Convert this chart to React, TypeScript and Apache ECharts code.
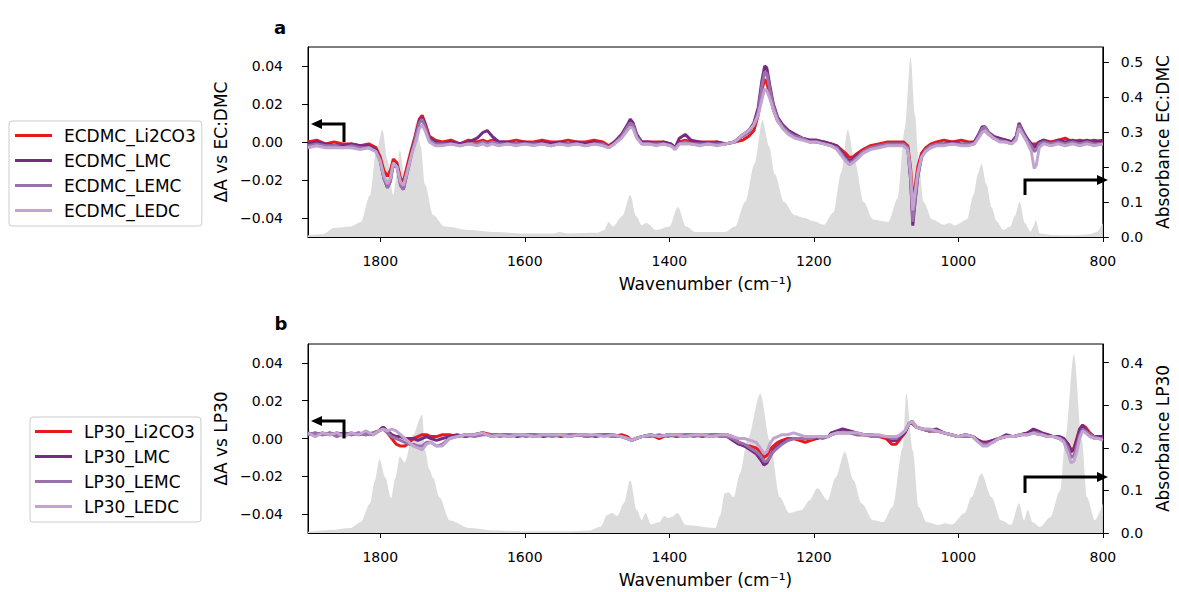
import React, { useEffect, useRef } from "react";
import * as echarts from "echarts";

// ---------- panel a: difference spectra vs EC:DMC ----------
const wnA = [
  1900, 1888, 1876, 1864, 1852, 1840, 1828, 1816, 1806, 1800,
  1795, 1790, 1786, 1782, 1777, 1772, 1768, 1763, 1757, 1751,
  1746, 1742, 1738, 1732, 1724, 1714, 1702, 1690, 1678, 1666,
  1658, 1652, 1645, 1636, 1624, 1612, 1600, 1588, 1576, 1564,
  1552, 1540, 1528, 1516, 1504, 1492, 1484, 1476, 1466, 1458,
  1454, 1450, 1445, 1438, 1428, 1418, 1408, 1398, 1392, 1386,
  1378, 1370, 1358, 1346, 1334, 1322, 1310, 1298, 1290, 1283,
  1277, 1272, 1268, 1265, 1261, 1256, 1250, 1243, 1235, 1226,
  1216, 1206, 1196, 1186, 1176, 1168, 1162, 1156, 1151, 1146,
  1140, 1132, 1122, 1110, 1098, 1086, 1076, 1070, 1066, 1063,
  1060, 1056, 1051, 1045, 1038, 1030, 1020, 1008, 996, 986,
  978, 972, 967, 963, 958, 951, 943, 934, 926, 920,
  916, 911, 905, 899, 895, 892, 888, 882, 872, 862,
  852, 842, 832, 822, 812, 800,
];

const ecdmcLi2CO3 = [
  0.000, 0.001, -0.001, 0.000, -0.001, -0.001, -0.002, -0.001, -0.003, -0.008,
  -0.015, -0.018, -0.015, -0.009, -0.011, -0.019, -0.021, -0.013, -0.004, 0.004,
  0.012, 0.014, 0.010, 0.003, 0.001, 0.000, 0.001, -0.001, 0.001, 0.000,
  0.001, 0.000, 0.001, 0.000, 0.000, 0.001, 0.000, 0.000, 0.001, 0.000,
  0.000, 0.001, 0.000, 0.000, 0.001, 0.000, -0.002, 0.000, 0.003, 0.007,
  0.009, 0.008, 0.003, 0.000, 0.000, 0.000, 0.000, -0.001, -0.003, 0.000,
  0.001, 0.000, 0.000, 0.000, 0.000, -0.001, 0.000, 0.001, 0.003, 0.006,
  0.014, 0.027, 0.033, 0.031, 0.025, 0.017, 0.011, 0.008, 0.005, 0.003,
  0.002, 0.001, 0.000, 0.000, -0.001, -0.002, -0.004, -0.006, -0.008, -0.008,
  -0.006, -0.004, -0.002, -0.001, 0.000, 0.000, 0.000, -0.002, -0.014, -0.030,
  -0.024, -0.013, -0.006, -0.003, -0.001, 0.000, 0.001, 0.000, 0.001, 0.000,
  0.000, 0.003, 0.006, 0.006, 0.004, 0.002, 0.001, 0.001, 0.000, 0.002,
  0.008, 0.005, 0.001, -0.001, -0.001, -0.001, 0.000, 0.001, 0.000, 0.001,
  0.002, 0.000, 0.001, 0.000, 0.001, 0.000,
];

const ecdmcLMC = [
  -0.001, 0.000, -0.001, -0.002, -0.002, -0.001, -0.002, -0.002, -0.004, -0.010,
  -0.019, -0.024, -0.020, -0.011, -0.012, -0.022, -0.025, -0.016, -0.006, 0.003,
  0.011, 0.013, 0.009, 0.002, 0.000, -0.001, 0.000, -0.001, 0.000, 0.002,
  0.005, 0.006, 0.003, 0.000, 0.000, -0.001, 0.000, -0.001, 0.000, -0.001,
  0.000, -0.001, 0.000, -0.001, 0.000, -0.001, -0.003, 0.000, 0.004, 0.009,
  0.012, 0.010, 0.004, 0.000, 0.000, -0.001, 0.000, -0.001, -0.003, 0.002,
  0.004, 0.001, 0.000, -0.001, 0.000, -0.001, 0.000, 0.004, 0.006, 0.010,
  0.018, 0.032, 0.040, 0.039, 0.030, 0.020, 0.013, 0.009, 0.006, 0.004,
  0.002, 0.001, 0.001, 0.000, -0.001, -0.002, -0.005, -0.008, -0.010, -0.009,
  -0.007, -0.005, -0.003, -0.002, -0.001, -0.001, -0.001, -0.003, -0.020, -0.044,
  -0.032, -0.018, -0.008, -0.004, -0.002, -0.001, -0.001, 0.000, -0.001, -0.001,
  0.000, 0.004, 0.008, 0.008, 0.005, 0.003, 0.002, 0.001, 0.000, 0.003,
  0.010, 0.006, 0.002, -0.001, -0.003, -0.002, 0.000, 0.001, -0.001, 0.001,
  0.000, 0.001, 0.000, 0.001, 0.000, 0.001,
];

const ecdmcLEMC = [
  -0.002, -0.001, -0.002, -0.002, -0.003, -0.002, -0.003, -0.003, -0.005, -0.010,
  -0.019, -0.024, -0.021, -0.012, -0.013, -0.023, -0.025, -0.017, -0.007, 0.002,
  0.010, 0.012, 0.008, 0.001, -0.001, -0.001, -0.001, -0.002, -0.001, -0.001,
  0.000, -0.001, 0.000, -0.001, -0.001, -0.001, -0.001, -0.001, -0.001, -0.002,
  -0.001, -0.001, -0.001, -0.002, -0.001, -0.001, -0.003, -0.001, 0.003, 0.008,
  0.010, 0.009, 0.003, -0.001, -0.001, -0.001, -0.001, -0.002, -0.003, -0.001,
  0.000, -0.001, -0.001, -0.001, -0.001, -0.001, 0.000, 0.003, 0.005, 0.009,
  0.016, 0.029, 0.037, 0.036, 0.028, 0.019, 0.012, 0.008, 0.005, 0.003,
  0.002, 0.000, 0.000, -0.001, -0.002, -0.003, -0.006, -0.009, -0.011, -0.010,
  -0.008, -0.005, -0.003, -0.002, -0.001, -0.001, -0.001, -0.003, -0.019, -0.042,
  -0.031, -0.018, -0.008, -0.004, -0.002, -0.001, -0.001, -0.001, -0.001, -0.001,
  -0.001, 0.003, 0.007, 0.008, 0.005, 0.002, 0.001, 0.000, -0.001, 0.002,
  0.009, 0.005, 0.001, -0.002, -0.005, -0.004, -0.001, 0.000, -0.001, 0.000,
  -0.001, 0.000, -0.001, 0.000, -0.001, -0.001,
];

const ecdmcLEDC = [
  -0.003, -0.002, -0.003, -0.003, -0.003, -0.003, -0.004, -0.003, -0.005, -0.010,
  -0.018, -0.022, -0.019, -0.011, -0.013, -0.021, -0.023, -0.016, -0.007, 0.000,
  0.007, 0.009, 0.006, 0.000, -0.002, -0.002, -0.001, -0.002, -0.001, -0.002,
  -0.001, -0.002, -0.001, -0.002, -0.001, -0.002, -0.001, -0.002, -0.001, -0.002,
  -0.001, -0.002, -0.001, -0.002, -0.001, -0.002, -0.003, -0.001, 0.002, 0.006,
  0.008, 0.007, 0.002, -0.001, -0.001, -0.002, -0.001, -0.002, -0.004, -0.001,
  -0.001, -0.001, -0.002, -0.001, -0.002, -0.001, 0.000, 0.004, 0.006, 0.009,
  0.014, 0.022, 0.028, 0.027, 0.023, 0.017, 0.011, 0.007, 0.004, 0.002,
  0.001, 0.000, 0.000, -0.001, -0.002, -0.004, -0.007, -0.010, -0.012, -0.011,
  -0.009, -0.006, -0.004, -0.003, -0.002, -0.002, -0.002, -0.004, -0.016, -0.036,
  -0.027, -0.016, -0.008, -0.005, -0.003, -0.002, -0.002, -0.001, -0.002, -0.002,
  -0.001, 0.002, 0.005, 0.006, 0.004, 0.002, 0.000, 0.000, -0.001, 0.001,
  0.007, 0.004, 0.000, -0.005, -0.014, -0.012, -0.003, -0.001, -0.002, -0.001,
  -0.002, -0.001, -0.002, -0.001, -0.002, -0.001,
];

// reference absorbance of EC:DMC (right axis, panel a)
const wnAbsA = [
  1900, 1880, 1864, 1841, 1827, 1814, 1806, 1797, 1790, 1782,
  1777, 1773, 1766, 1758, 1750, 1744, 1738, 1727, 1711, 1677,
  1640, 1600, 1560, 1552, 1540, 1500, 1490, 1484, 1478, 1465,
  1454, 1446, 1438, 1432, 1418, 1400, 1388, 1377, 1364, 1323,
  1309, 1295, 1282, 1271, 1262, 1254, 1241, 1227, 1214, 1200,
  1186, 1173, 1162, 1153, 1143, 1131, 1118, 1097, 1084, 1074,
  1066, 1060, 1055, 1048, 1036, 1020, 1012, 1005, 988, 979,
  973, 968, 961, 954, 947, 938, 928, 922, 915, 908,
  900, 896, 893, 887, 870, 840, 818, 808, 800,
];
const absECDMC = [
  0.005, 0.008, 0.026, 0.030, 0.043, 0.120, 0.240, 0.307, 0.220, 0.120,
  0.180, 0.250, 0.170, 0.240, 0.330, 0.260, 0.150, 0.063, 0.030, 0.020,
  0.014, 0.010, 0.010, 0.014, 0.010, 0.012, 0.020, 0.043, 0.030, 0.060,
  0.120, 0.060, 0.034, 0.040, 0.020, 0.030, 0.086, 0.030, 0.014, 0.014,
  0.030, 0.100, 0.210, 0.335, 0.260, 0.180, 0.100, 0.063, 0.055, 0.045,
  0.035, 0.070, 0.185, 0.307, 0.215, 0.100, 0.050, 0.043, 0.110, 0.310,
  0.515, 0.350, 0.220, 0.100, 0.050, 0.035, 0.040, 0.033, 0.050, 0.120,
  0.180, 0.210, 0.150, 0.085, 0.045, 0.020, 0.030, 0.060, 0.100, 0.040,
  0.015, 0.030, 0.048, 0.010, 0.006, 0.005, 0.008, 0.015, 0.040,
];

// ---------- panel b: difference spectra vs LP30 ----------
const wnB = [
  1900, 1890, 1880, 1870, 1860, 1850, 1840, 1830, 1820, 1810,
  1802, 1796, 1790, 1784, 1778, 1772, 1766, 1760, 1754, 1748,
  1742, 1736, 1730, 1722, 1714, 1704, 1694, 1682, 1670, 1658,
  1646, 1634, 1622, 1610, 1598, 1586, 1574, 1562, 1550, 1538,
  1526, 1514, 1502, 1490, 1478, 1466, 1458, 1452, 1446, 1438,
  1426, 1414, 1402, 1390, 1378, 1366, 1354, 1342, 1330, 1320,
  1312, 1304, 1296, 1288, 1280, 1274, 1269, 1265, 1261, 1256,
  1250, 1244, 1236, 1228, 1220, 1212, 1204, 1196, 1188, 1180,
  1176, 1168, 1160, 1150, 1140, 1130, 1120, 1110, 1100, 1092,
  1086, 1080, 1074, 1068, 1064, 1058, 1050, 1040, 1030, 1020,
  1010, 1000, 990, 980, 972, 966, 960, 952, 944, 934,
  924, 914, 904, 896, 890, 884, 876, 868, 860, 854,
  848, 844, 840, 836, 832, 828, 824, 818, 812, 806,
  800,
];

const lp30Li2CO3 = [
  0.002, 0.003, 0.002, 0.003, 0.002, 0.003, 0.002, 0.003, 0.002, 0.003,
  0.004, 0.006, 0.003, 0.000, -0.003, -0.004, -0.004, -0.002, 0.000, 0.001,
  0.002, 0.002, 0.001, 0.001, 0.002, 0.002, 0.001, 0.002, 0.002, 0.003,
  0.002, 0.002, 0.001, 0.002, 0.002, 0.001, 0.002, 0.002, 0.001, 0.002,
  0.002, 0.001, 0.002, 0.002, 0.001, 0.002, 0.001, -0.001, 0.000, 0.001,
  0.002, 0.000, 0.002, 0.001, 0.002, 0.002, 0.001, 0.002, 0.002, 0.002,
  0.001, -0.002, -0.004, -0.004, -0.005, -0.007, -0.010, -0.009, -0.006, -0.004,
  -0.002, -0.001, 0.000, 0.000, -0.001, -0.002, -0.001, 0.000, 0.001, 0.001,
  0.002, 0.003, 0.003, 0.003, 0.002, 0.002, 0.002, 0.001, 0.000, -0.003,
  -0.003, 0.000, 0.003, 0.008, 0.008, 0.006, 0.005, 0.004, 0.004, 0.003,
  0.002, 0.001, 0.002, 0.001, -0.001, -0.002, -0.002, -0.001, 0.000, 0.001,
  0.001, 0.002, 0.003, 0.004, 0.003, 0.002, 0.001, 0.001, 0.000, -0.001,
  -0.003, -0.006, -0.005, 0.000, 0.005, 0.007, 0.006, 0.003, 0.001, 0.001,
  0.001,
];

const lp30LMC = [
  0.003, 0.002, 0.003, 0.002, 0.003, 0.002, 0.003, 0.002, 0.003, 0.002,
  0.004, 0.006, 0.004, 0.002, 0.001, 0.001, 0.000, 0.000, 0.000, -0.001,
  0.000, 0.001, 0.000, -0.001, 0.000, 0.001, 0.002, 0.001, 0.002, 0.003,
  0.001, 0.002, 0.002, 0.001, 0.002, 0.002, 0.001, 0.002, 0.002, 0.001,
  0.002, 0.002, 0.001, 0.002, 0.002, 0.001, 0.000, -0.001, 0.000, 0.001,
  0.002, 0.001, 0.002, 0.002, 0.001, 0.002, 0.002, 0.001, 0.002, 0.001,
  -0.001, -0.003, -0.004, -0.006, -0.008, -0.011, -0.014, -0.013, -0.010, -0.006,
  -0.004, -0.002, -0.001, 0.000, 0.000, 0.000, 0.001, 0.000, 0.001, 0.001,
  0.003, 0.004, 0.005, 0.004, 0.003, 0.002, 0.002, 0.001, 0.001, -0.001,
  -0.001, 0.001, 0.003, 0.008, 0.009, 0.006, 0.005, 0.004, 0.005, 0.003,
  0.002, 0.001, 0.002, 0.001, -0.001, -0.002, -0.002, -0.001, 0.000, 0.002,
  0.001, 0.002, 0.003, 0.005, 0.004, 0.003, 0.002, 0.001, 0.001, 0.000,
  -0.003, -0.007, -0.006, -0.001, 0.005, 0.007, 0.005, 0.002, 0.001, 0.001,
  0.001,
];

const lp30LEMC = [
  0.002, 0.003, 0.002, 0.003, 0.001, 0.003, 0.002, 0.003, 0.002, 0.003,
  0.004, 0.005, 0.003, 0.001, 0.000, -0.001, -0.002, -0.003, -0.003, -0.004,
  -0.004, -0.002, -0.002, -0.004, -0.003, 0.000, 0.001, 0.002, 0.001, 0.002,
  0.002, 0.001, 0.002, 0.002, 0.001, 0.002, 0.002, 0.001, 0.002, 0.002,
  0.002, 0.001, 0.002, 0.002, 0.001, 0.001, 0.000, -0.001, 0.000, 0.001,
  0.001, 0.002, 0.001, 0.002, 0.002, 0.001, 0.002, 0.002, 0.001, 0.001,
  0.000, -0.002, -0.003, -0.005, -0.007, -0.009, -0.012, -0.012, -0.010, -0.007,
  -0.005, -0.003, -0.001, 0.000, 0.000, 0.000, 0.000, 0.001, 0.000, 0.001,
  0.002, 0.003, 0.003, 0.003, 0.002, 0.002, 0.001, 0.001, 0.001, 0.000,
  0.000, 0.002, 0.004, 0.008, 0.009, 0.006, 0.005, 0.004, 0.004, 0.003,
  0.002, 0.001, 0.001, 0.001, -0.002, -0.003, -0.003, -0.002, 0.000, 0.001,
  0.001, 0.002, 0.002, 0.003, 0.003, 0.002, 0.001, 0.001, 0.000, -0.001,
  -0.005, -0.010, -0.009, -0.004, 0.002, 0.005, 0.004, 0.002, 0.001, 0.000,
  0.000,
];

const lp30LEDC = [
  0.003, 0.001, 0.003, 0.002, 0.003, 0.001, 0.003, 0.002, 0.004, 0.002,
  0.004, 0.005, 0.004, 0.005, 0.004, 0.002, 0.000, -0.002, -0.004, -0.005,
  -0.006, -0.003, -0.002, -0.004, -0.004, 0.000, 0.001, 0.002, 0.002, 0.003,
  0.001, 0.002, 0.001, 0.002, 0.002, 0.001, 0.002, 0.002, 0.002, 0.001,
  0.002, 0.002, 0.002, 0.001, 0.002, 0.001, 0.000, -0.001, 0.000, 0.001,
  0.002, 0.001, 0.002, 0.002, 0.001, 0.002, 0.002, 0.001, 0.002, 0.002,
  0.001, 0.000, 0.000, -0.001, -0.002, -0.005, -0.008, -0.007, -0.003, 0.000,
  0.001, 0.002, 0.002, 0.003, 0.002, 0.001, 0.001, 0.001, 0.001, 0.001,
  0.002, 0.003, 0.003, 0.003, 0.003, 0.002, 0.002, 0.002, 0.001, 0.001,
  0.001, 0.002, 0.004, 0.008, 0.009, 0.006, 0.005, 0.005, 0.004, 0.003,
  0.002, 0.001, 0.002, 0.001, -0.002, -0.004, -0.004, -0.002, 0.000, 0.001,
  0.001, 0.002, 0.002, 0.003, 0.002, 0.002, 0.001, 0.001, 0.000, -0.002,
  -0.008, -0.013, -0.012, -0.007, 0.000, 0.004, 0.003, 0.001, 0.000, 0.000,
  -0.001,
];

// reference absorbance of LP30 (right axis, panel b)
const wnAbsB = [
  1900, 1869, 1841, 1827, 1814, 1808, 1801, 1793, 1785, 1779,
  1773, 1766, 1755, 1742, 1738, 1732, 1727, 1718, 1704, 1677,
  1640, 1600, 1550, 1510, 1495, 1486, 1479, 1472, 1463, 1454,
  1445, 1438, 1433, 1425, 1414, 1407, 1402, 1396, 1389, 1377,
  1336, 1330, 1323, 1318, 1311, 1302, 1292, 1274, 1261, 1247,
  1234, 1217, 1206, 1195, 1181, 1170, 1157, 1145, 1134, 1118,
  1104, 1091, 1077, 1072, 1063, 1055, 1044, 1027, 1018, 1009,
  991, 982, 968, 954, 941, 927, 916, 909, 904, 897,
  887, 873, 859, 852, 840, 829, 822, 811, 800,
];
const absLP30 = [
  0.003, 0.007, 0.012, 0.026, 0.070, 0.120, 0.173, 0.130, 0.082, 0.130,
  0.180, 0.166, 0.230, 0.278, 0.194, 0.150, 0.130, 0.084, 0.030, 0.012,
  0.006, 0.004, 0.004, 0.006, 0.015, 0.042, 0.047, 0.040, 0.070, 0.124,
  0.054, 0.030, 0.047, 0.020, 0.025, 0.040, 0.035, 0.038, 0.047, 0.019,
  0.012, 0.040, 0.094, 0.096, 0.084, 0.140, 0.218, 0.327, 0.218, 0.084,
  0.047, 0.054, 0.077, 0.105, 0.077, 0.130, 0.190, 0.124, 0.070, 0.030,
  0.026, 0.061, 0.200, 0.327, 0.194, 0.061, 0.026, 0.019, 0.023, 0.020,
  0.047, 0.084, 0.140, 0.084, 0.030, 0.019, 0.070, 0.030, 0.054, 0.025,
  0.014, 0.037, 0.100, 0.218, 0.420, 0.218, 0.084, 0.030, 0.070,
];

// ---------- axes ----------
const wnTicks = [800, 1000, 1200, 1400, 1600, 1800];
const diffTicks = [-0.04, -0.02, 0, 0.02, 0.04];
const absTicksA = [0, 0.1, 0.2, 0.3, 0.4, 0.5];
const absTicksB = [0, 0.1, 0.2, 0.3, 0.4];

const namesA = ["ECDMC_Li2CO3", "ECDMC_LMC", "ECDMC_LEMC", "ECDMC_LEDC"];
const namesB = ["LP30_Li2CO3", "LP30_LMC", "LP30_LEMC", "LP30_LEDC"];
const lineColors = ["#e41a1c", "#762a83", "#9970ab", "#c2a5cf"];

const FONT = '"DejaVu Sans", sans-serif';
const GRID_LEFT = 308;
const GRID_W = 805;
const TOP_A = 47;
const H_A = 190;
const TOP_B = 344;
const H_B = 189;

const pairs = (xs: number[], ys: number[]) => xs.map((x, i) => [x, ys[i]]);
const minus = (s: string) => s.replace("-", "\u2212");

function elbowArrow(x0: number, y0: number, y1: number, tipX: number) {
  const dir = tipX > x0 ? 1 : -1;
  const baseX = tipX - dir * 11;
  return [
    {
      type: "polyline",
      shape: { points: [[x0, y0], [x0, y1], [baseX, y1]] },
      style: { stroke: "#000", lineWidth: 3, fill: null },
      z: 10,
    },
    {
      type: "polygon",
      shape: { points: [[tipX, y1], [baseX, y1 - 5], [baseX, y1 + 5]] },
      style: { fill: "#000" },
      z: 10,
    },
  ];
}

function buildOption() {
  const axisCommon = {
    axisLine: { show: true, onZero: false, lineStyle: { color: "#000", width: 1 } },
    splitLine: { show: false },
  };
  const xAxes = [0, 1].map((gi) => ({
    type: "value",
    gridIndex: gi,
    min: 800,
    max: 1900,
    inverse: true,
    interval: 200,
    name: "Wavenumber (cm\u207B\u00B9)",
    nameLocation: "middle",
    nameGap: 38,
    nameTextStyle: { fontSize: 17, color: "#000", fontFamily: FONT },
    axisTick: { show: true, length: 5, customValues: wnTicks, lineStyle: { color: "#000" } },
    axisLabel: {
      fontSize: 14,
      color: "#000",
      margin: 17,
      fontFamily: FONT,
      customValues: wnTicks,
      formatter: (v: number) => String(v),
    },
    ...axisCommon,
  }));

  const diffAxis = (gi: number, name: string) => ({
    type: "value",
    gridIndex: gi,
    position: "left",
    min: -0.05,
    max: 0.05,
    name,
    nameLocation: "middle",
    nameRotate: 90,
    nameGap: 68,
    nameTextStyle: { fontSize: 17, color: "#000", fontFamily: FONT },
    axisTick: { show: true, length: 6, customValues: diffTicks, lineStyle: { color: "#000" } },
    axisLabel: {
      fontSize: 14,
      color: "#000",
      margin: 25,
      fontFamily: FONT,
      customValues: diffTicks,
      formatter: (v: number) => minus(v.toFixed(2)),
    },
    ...axisCommon,
  });

  const absAxis = (gi: number, name: string, max: number, ticks: number[]) => ({
    type: "value",
    gridIndex: gi,
    position: "right",
    min: 0,
    max,
    name,
    nameLocation: "middle",
    nameRotate: 90,
    nameGap: 51,
    nameTextStyle: { fontSize: 17, color: "#000", fontFamily: FONT },
    axisTick: { show: true, length: 6, customValues: ticks, lineStyle: { color: "#000" } },
    axisLabel: {
      fontSize: 14,
      color: "#000",
      margin: 18,
      fontFamily: FONT,
      customValues: ticks,
      formatter: (v: number) => v.toFixed(1),
    },
    ...axisCommon,
  });

  const absSeries = (xi: number, yi: number, xs: number[], ys: number[]) => ({
    type: "line",
    xAxisIndex: xi,
    yAxisIndex: yi,
    data: pairs(xs, ys),
    symbol: "none",
    smooth: 0.3,
    smoothMonotone: "x",
    lineStyle: { width: 0 },
    areaStyle: { color: "#dcdcdc", opacity: 1 },
    silent: true,
    z: 1,
  });

  const diffSeries = (name: string, color: string, xi: number, yi: number, xs: number[], ys: number[]) => ({
    type: "line",
    name,
    xAxisIndex: xi,
    yAxisIndex: yi,
    data: pairs(xs, ys),
    symbol: "none",
    color,
    lineStyle: { color, width: 3 },
    z: 3,
  });

  const seriesA = [ecdmcLi2CO3, ecdmcLMC, ecdmcLEMC, ecdmcLEDC];
  const seriesB = [lp30Li2CO3, lp30LMC, lp30LEMC, lp30LEDC];

  const legendCommon = {
    orient: "vertical",
    icon: "rect",
    itemWidth: 37,
    itemHeight: 3,
    itemGap: 8,
    borderColor: "#cccccc",
    borderWidth: 1,
    borderRadius: 3,
    backgroundColor: "#ffffff",
    selectedMode: false,
    textStyle: { fontSize: 17, color: "#000", fontFamily: FONT, lineHeight: 17, padding: [0, 0, 0, 7] },
  };

  return {
    animation: false,
    backgroundColor: "#ffffff",
    grid: [
      { left: GRID_LEFT, top: TOP_A, width: GRID_W, height: H_A, show: true, borderColor: "#000", borderWidth: 1, backgroundColor: "transparent" },
      { left: GRID_LEFT, top: TOP_B, width: GRID_W, height: H_B, show: true, borderColor: "#000", borderWidth: 1, backgroundColor: "transparent" },
    ],
    legend: [
      { ...legendCommon, data: namesA, left: 9, top: 121, padding: [6, 6, 7, 6] },
      { ...legendCommon, data: namesB, left: 30, top: 417, padding: [6, 6, 7, 5] },
    ],
    xAxis: xAxes,
    yAxis: [
      diffAxis(0, "\u0394A vs EC:DMC"),
      absAxis(0, "Absorbance EC:DMC", 0.544, absTicksA),
      diffAxis(1, "\u0394A vs LP30"),
      absAxis(1, "Absorbance LP30", 0.444, absTicksB),
    ],
    series: [
      absSeries(0, 1, wnAbsA, absECDMC),
      absSeries(1, 3, wnAbsB, absLP30),
      ...seriesA.map((ys, i) => diffSeries(namesA[i], lineColors[i], 0, 0, wnA, ys)),
      ...seriesB.map((ys, i) => diffSeries(namesB[i], lineColors[i], 1, 2, wnB, ys)),
    ],
    graphic: [
      {
        type: "text",
        x: 280,
        y: 36,
        style: { text: "a", align: "center", verticalAlign: "bottom", fontSize: 18, fontWeight: "bold", fill: "#000", fontFamily: FONT },
      },
      {
        type: "text",
        x: 281,
        y: 332,
        style: { text: "b", align: "center", verticalAlign: "bottom", fontSize: 18, fontWeight: "bold", fill: "#000", fontFamily: FONT },
      },
      ...elbowArrow(344, TOP_A + H_A / 2, 124, 311),
      ...elbowArrow(1025, 195, 180, 1108),
      ...elbowArrow(344, TOP_B + H_B / 2, 421, 311),
      ...elbowArrow(1025, 493, 477, 1108),
    ],
  };
}

export default function App() {
  const ref = useRef<HTMLDivElement>(null);
  useEffect(() => {
    if (!ref.current) return;
    const chart = echarts.init(ref.current, undefined, { renderer: "svg" });
    chart.setOption(buildOption() as any);
    return () => chart.dispose();
  }, []);
  return (
    <div
      ref={ref}
      style={{ position: "absolute", left: 0, top: 0, width: 1179, height: 592, background: "#fff" }}
    />
  );
}
